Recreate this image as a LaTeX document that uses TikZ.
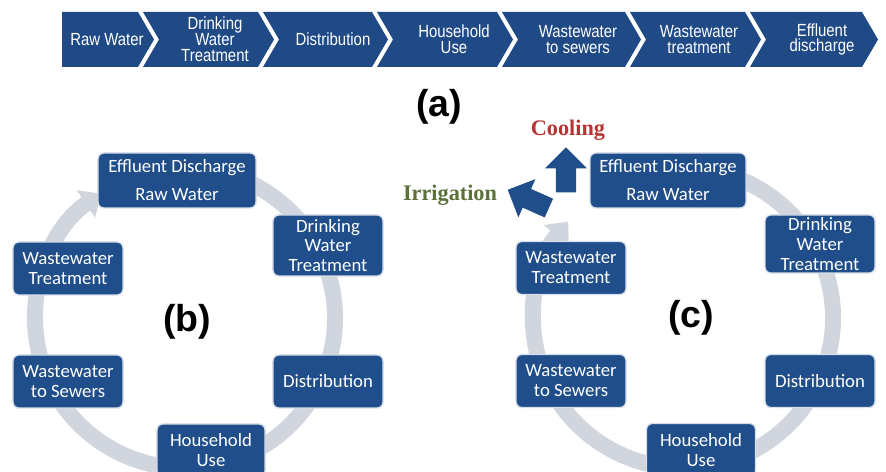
\documentclass[tikz,border=0pt]{standalone}
\usepackage{fontspec}
\usepackage{tikz}
\usetikzlibrary{arrows.meta, shapes.arrows}
\usetikzlibrary{positioning}
\newfontfamily\boxfont{Carlito}
\newfontfamily\narrowfont[FakeStretch=0.85]{Liberation Sans}
\newfontfamily\headfont{Liberation Sans}
\newfontfamily\wordfont{Liberation Serif}
\definecolor{banner_blue}{RGB}{31,74,133}
\definecolor{stage_blue}{RGB}{31,78,138}
\definecolor{stage_edge}{RGB}{214,222,234}
\definecolor{ring_grey}{RGB}{208,213,222}
\definecolor{cool_red}{RGB}{184,52,52}
\definecolor{irr_green}{RGB}{92,112,58}
\tikzstyle{chevron} = [
    fill=banner_blue
]
\tikzstyle{chevron_text} = [
    white, 
    font=\narrowfont\fontsize{15}{13.5}\selectfont, 
    align=center, 
    inner sep=0pt
]
\tikzstyle{stage} = [
    rounded corners=5pt, 
    white, 
    draw=stage_edge, 
    line width=1.2pt, 
    fill=stage_blue, 
    font=\boxfont\fontsize{16}{17}\selectfont, 
    align=center, 
    inner sep=0pt, % sizes come from the minimums
    minimum width=3.3cm, 
    minimum height=1.59cm
]
\tikzstyle{ring} = [
    draw=ring_grey, 
    line width=0.48cm, 
    -{Triangle[width=0.95cm, length=0.55cm]}
]
\tikzstyle{block_arrow} = [
    single arrow, 
    fill=stage_blue, 
    inner xsep=0pt, 
    inner ysep=0.3cm, % half the shaft
    minimum width=1.25cm, 
    minimum height=1.35cm, 
    single arrow head extend=0.32cm
]
\tikzstyle{panel_label} = [
    font=\headfont\bfseries\fontsize{32}{34}\selectfont
]
\tikzstyle{use_label} = [
    font=\wordfont\bfseries\fontsize{19}{21}\selectfont
]

\begin{document}
\begin{tikzpicture}[x=0.03cm, y=0.03cm]
\useasboundingbox (0,0) rectangle (886,472);
\fill[white] (0,0) rectangle (886,472);

% (a) the linear chain
\fill [chevron] (62,460) -- (138,460) -- (154,432.5) -- (138,405) -- (62,405) -- cycle;
\fill [chevron] (143,460) -- (258,460) -- (274,432.5) -- (258,405) -- (143,405) -- (159,432.5) -- cycle;
\fill [chevron] (263,460) -- (372,460) -- (388,432.5) -- (372,405) -- (263,405) -- (279,432.5) -- cycle;
\fill [chevron] (377,460) -- (497,460) -- (513,432.5) -- (497,405) -- (377,405) -- (393,432.5) -- cycle;
\fill [chevron] (502,460) -- (625,460) -- (641,432.5) -- (625,405) -- (502,405) -- (518,432.5) -- cycle;
\fill [chevron] (630,460) -- (745,460) -- (761,432.5) -- (745,405) -- (630,405) -- (646,432.5) -- cycle;
\fill [chevron] (750,460) -- (862,460) -- (878,432.5) -- (862,405) -- (750,405) -- (766,432.5) -- cycle;
\node [chevron_text] (raw) at (107,432.5) {Raw Water};
\node [chevron_text] (treat) at (215,432.5) {Drinking\\Water\\Treatment};
\node [chevron_text] (distrib) at (333,432.5) {Distribution};
\node [chevron_text] (house) at (454,432.5) {Household\\Use};
\node [chevron_text] (sewer) at (578,432.5) {Wastewater\\to sewers};
\node [chevron_text] (wwtreat) at (699,432.5) {Wastewater\\treatment};
\node [chevron_text] (effluent) at (822,432.5) {Effluent\\discharge};
\node [panel_label] (label_a) at (439,365) {(a)};

% (b) the closed loop
\coordinate (hub_b) at (185,154);
\draw [ring] (hub_b) ++(100:150) arc [start angle=100, end angle=-236, radius=150];
\node [stage, minimum width=4.74cm, minimum height=1.65cm] (eff_b) at (177,291.5) {Effluent Discharge\\[7pt]Raw Water};
\node [stage, minimum height=1.83cm] (dwt_b) at (328,226.5) {Drinking\\Water\\Treatment};
\node [stage] (wwt_b) at (68,203.5) {Wastewater\\Treatment};
\node [stage] (wws_b) at (68,90.5) {Wastewater\\to Sewers};
\node [stage] (dist_b) at (328,90.5) {Distribution};
\node [stage, minimum width=3.24cm] (hh_b) at (211,21.5) {Household\\Use};
\node [panel_label] (label_b) at (187,150) {(b)};

% (c) the loop with reuse
\coordinate (hub_c) at (683,154);
\draw [ring] (hub_c) ++(75:150) arc [start angle=75, end angle=-220, radius=150];
\node [stage, minimum width=4.68cm, minimum height=1.65cm] (eff_c) at (668,291.5) {Effluent Discharge\\[7pt]Raw Water};
\node [stage, minimum height=1.74cm] (dwt_c) at (820,228) {Drinking\\Water\\Treatment};
\node [stage] (wwt_c) at (571,204) {Wastewater\\Treatment};
\node [stage] (wws_c) at (571,91) {Wastewater\\to Sewers};
\node [stage] (dist_c) at (820,91) {Distribution};
\node [stage, minimum width=3.27cm] (hh_c) at (701,22) {Household\\Use};
\node [panel_label] (label_c) at (691,154) {(c)};
\node [block_arrow, rotate=90] (to_cool) at (566,297) {};
\node [block_arrow, rotate=156] (to_irr) at (533,271) {};
\node [use_label, text=cool_red] (cooling) at (568,342) {Cooling};
\node [use_label, text=irr_green] (irrigation) at (450,277) {Irrigation};
\end{tikzpicture}
\end{document}
